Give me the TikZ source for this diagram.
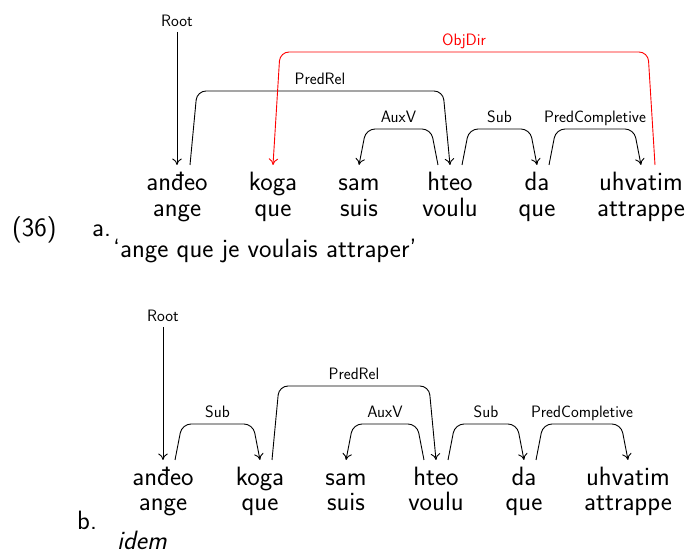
\documentclass[tikz,border=0pt]{standalone}
\usetikzlibrary{arrows.meta}
\tikzset{
  word/.style={anchor=base,inner sep=0pt,font=\fontsize{26.5}{30}\selectfont\sffamily},
  txt/.style={anchor=base west,inner sep=0pt,font=\fontsize{26.5}{30}\selectfont\sffamily},
  deplabel/.style={anchor=base,inner sep=0pt,yshift=6pt,font=\fontsize{16.5}{19}\selectfont\sffamily},
  dep/.style={line width=0.9pt,rounded corners=9pt,-{To[length=6.5pt,width=9.5pt]}},
}
% #1 options, #2 head, #3 start shift, #4 top start shift, #5 dependent, #6 top end shift, #7 height, #8 label
\newcommand{\depconn}[8][]{%
  \draw[dep,#1] ([xshift=#3,yshift=26pt]#2.base) -- ([xshift=#4,yshift=#7]#2.base)
    -- node[deplabel]{#8} ([xshift=#6,yshift=#7]#5.base) -- ([yshift=26pt]#5.base);}
\begin{document}
\begin{tikzpicture}[x=1pt,y=1pt]
\useasboundingbox (0,0) rectangle (691,554);
% ---- panel a ----
\node[word] (a1) at (177,363) {anđeo};
\node[word] (a2) at (273,363) {koga};
\node[word] (a3) at (359,363) {sam};
\node[word] (a4) at (450,363) {hteo};
\node[word] (a5) at (537,363) {da};
\node[word] (a6) at (641,363) {uhvatim};
\node[word] (ag1) at (177,337) {ange};
\node[word] (ag2) at (273,337) {que};
\node[word] (ag3) at (359,337) {suis};
\node[word] (ag4) at (450,337) {voulu};
\node[word] (ag5) at (537,337) {que};
\node[word] (ag6) at (641,337) {attrappe};
\node[deplabel,yshift=-6pt] (rootA) at ([yshift=164pt]a1.base) {Root};
\draw[dep] ([yshift=-5pt]rootA.base) -- ([yshift=26pt]a1.base);
\depconn{a4}{-12pt}{-19pt}{a3}{7pt}{62pt}{AuxV}
\depconn{a4}{12pt}{19pt}{a5}{-7pt}{62pt}{Sub}
\depconn{a5}{12pt}{19pt}{a6}{-7pt}{62pt}{PredCompletive}
\depconn{a1}{13pt}{20pt}{a4}{-7pt}{100pt}{PredRel}
\depconn[red]{a6}{14pt}{7pt}{a2}{7pt}{139pt}{ObjDir}
\node[txt] (num) at (12,317) {(36)};
\node[txt] (la) at (92,317) {a.};
\node[txt] (gla) at (113,296) {‘ange que je voulais attraper’};
% ---- panel b ----
\node[word] (b1) at (163,68) {anđeo};
\node[word] (b2) at (260,68) {koga};
\node[word] (b3) at (346,68) {sam};
\node[word] (b4) at (436,68) {hteo};
\node[word] (b5) at (524,68) {da};
\node[word] (b6) at (628,68) {uhvatim};
\node[word] (bg1) at (163,43) {ange};
\node[word] (bg2) at (260,43) {que};
\node[word] (bg3) at (346,43) {suis};
\node[word] (bg4) at (436,43) {voulu};
\node[word] (bg5) at (524,43) {que};
\node[word] (bg6) at (628,43) {attrappe};
\node[deplabel,yshift=-6pt] (rootB) at ([yshift=164pt]b1.base) {Root};
\draw[dep] ([yshift=-5pt]rootB.base) -- ([yshift=26pt]b1.base);
\depconn{b1}{12pt}{19pt}{b2}{-7pt}{62pt}{Sub}
\depconn{b2}{12pt}{19pt}{b4}{-7pt}{100pt}{PredRel}
\depconn{b4}{-12pt}{-19pt}{b3}{7pt}{62pt}{AuxV}
\depconn{b4}{12pt}{19pt}{b5}{-7pt}{62pt}{Sub}
\depconn{b5}{12pt}{19pt}{b6}{-7pt}{62pt}{PredCompletive}
\node[txt] (lb) at (77,24) {b.};
\node[txt,font={\fontsize{26.5}{30}\selectfont\sffamily\itshape}] (idem) at (117,4) {idem};
\end{tikzpicture}
\end{document}
